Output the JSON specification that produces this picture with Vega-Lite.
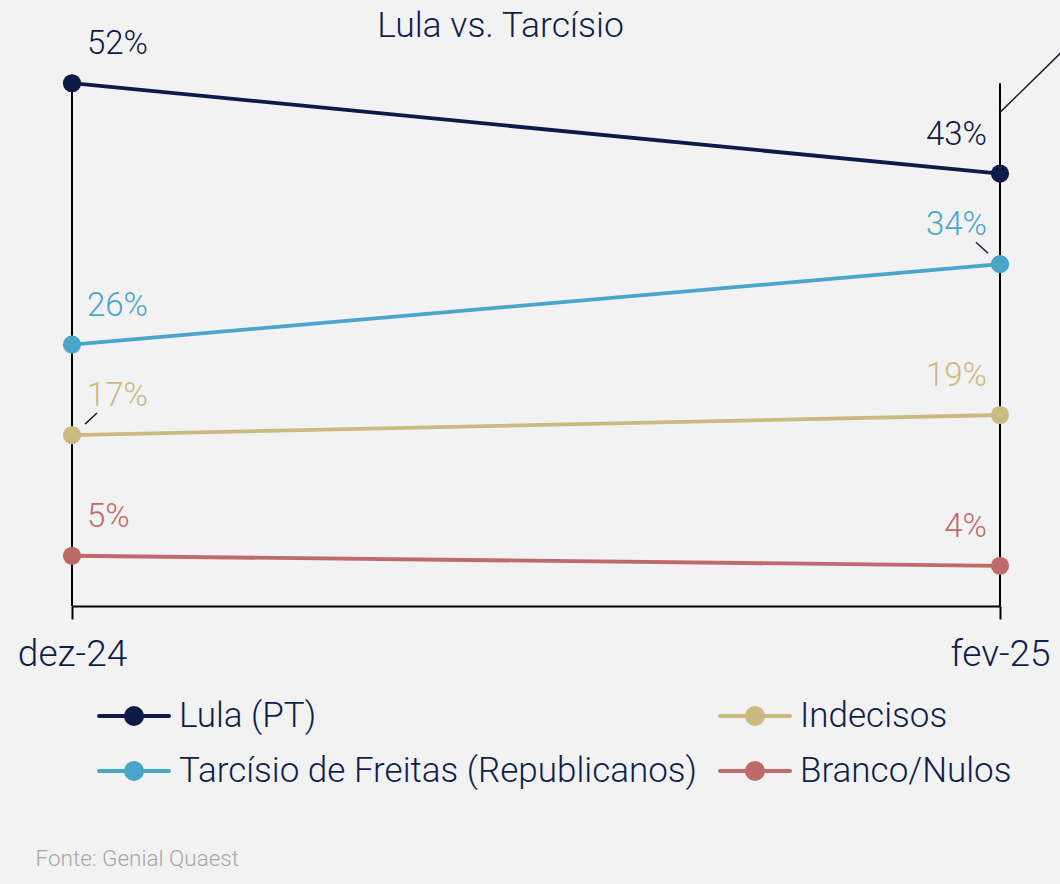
{
  "$schema": "https://vega.github.io/schema/vega-lite/v6.json",
  "width": 928,
  "height": 563,
  "autosize": {"type": "none"},
  "padding": {"left": 72, "top": 43, "right": 60, "bottom": 278},
  "background": "#f2f2f2",
  "config": {"view": {"stroke": null}, "font": "Roboto"},
  "datasets": {
    "pts": [
      {"periodo": 0, "serie": "Lula (PT)", "valor": 52, "rotulo": "52%"},
      {"periodo": 1, "serie": "Lula (PT)", "valor": 43, "rotulo": "43%"},
      {"periodo": 0, "serie": "Tarcísio de Freitas (Republicanos)", "valor": 26, "rotulo": "26%"},
      {"periodo": 1, "serie": "Tarcísio de Freitas (Republicanos)", "valor": 34, "rotulo": "34%"},
      {"periodo": 0, "serie": "Indecisos", "valor": 17, "rotulo": "17%"},
      {"periodo": 1, "serie": "Indecisos", "valor": 19, "rotulo": "19%"},
      {"periodo": 0, "serie": "Branco/Nulos", "valor": 5, "rotulo": "5%"},
      {"periodo": 1, "serie": "Branco/Nulos", "valor": 4, "rotulo": "4%"}
    ],
    "guias": [
      {"x": 0, "y": 0, "y2": 52},
      {"x": 1, "y": 0, "y2": 52}
    ],
    "anot": [
      {"x": 0.9741, "y": 36.18, "x2": 0.9871, "y2": 35.09},
      {"x": 0.014, "y": 18.09, "x2": 0.0269, "y2": 19.19},
      {"x": 1.0, "y": 49.1, "x2": 1.0808, "y2": 56.4}
    ]
  },
  "layer": [
    {
      "data": {"name": "guias"},
      "mark": {"type": "rule", "color": "#000000", "strokeWidth": 2},
      "encoding": {
        "x": {
          "field": "x",
          "type": "quantitative",
          "scale": {"domain": [0, 1], "nice": false, "zero": false},
          "axis": {
            "values": [0, 1],
            "labelExpr": "datum.value == 0 ? 'dez-24' : 'fev-25'",
            "grid": false,
            "domainColor": "#000000",
            "domainWidth": 2,
            "tickColor": "#000000",
            "tickWidth": 2,
            "tickSize": 13,
            "labelFontSize": 37,
            "labelFontWeight": 300,
            "labelColor": "#0e1f4b",
            "labelPadding": 17,
            "labelFlush": false,
            "labelOverlap": false,
            "title": "Fonte: Genial Quaest",
            "titleX": -37,
            "titleY": 259,
            "titleAlign": "left",
            "titleBaseline": "alphabetic",
            "titleFontSize": 22.5,
            "titleFontWeight": 300,
            "titleColor": "#a6a6a6",
            "titleAngle": 0
          }
        },
        "y": {
          "field": "y",
          "type": "quantitative",
          "scale": {"domain": [0, 56], "nice": false, "zero": false},
          "axis": {
            "domain": false,
            "ticks": false,
            "labels": false,
            "grid": false,
            "title": "Lula vs. Tarcísio",
            "titleAngle": 0,
            "titleX": 428,
            "titleY": -7,
            "titleAlign": "center",
            "titleBaseline": "alphabetic",
            "titleFontSize": 35.5,
            "titleFontWeight": 300,
            "titleColor": "#0e1f4b"
          }
        },
        "y2": {"field": "y2"}
      }
    },
    {
      "data": {"name": "pts"},
      "mark": {"type": "line", "strokeWidth": 3.8},
      "encoding": {
        "x": {"field": "periodo", "type": "quantitative"},
        "y": {"field": "valor", "type": "quantitative"},
        "color": {
          "field": "serie",
          "type": "nominal",
          "scale": {
            "domain": ["Lula (PT)", "Indecisos", "Tarcísio de Freitas (Republicanos)", "Branco/Nulos"],
            "range": ["#0b1a47", "#cbb982", "#4aa5cb", "#be6a6a"]
          },
          "legend": {
            "orient": "none",
            "legendX": 25,
            "legendY": 636,
            "columns": 2,
            "direction": "horizontal",
            "title": null,
            "padding": 0,
            "symbolType": "M-1,0L1,0M-0.23,0A0.23,0.23,0,1,1,0.23,0A0.23,0.23,0,1,1,-0.23,0Z",
            "symbolSize": 4900,
            "symbolStrokeWidth": 4,
            "labelFontSize": 35,
            "labelFontWeight": 300,
            "labelColor": "#0e1f4b",
            "labelOffset": 8,
            "labelLimit": 0,
            "rowPadding": -2,
            "columnPadding": 15,
            "encode": {
              "symbols": {
                "update": {
                  "stroke": {"scale": "color", "field": "value"},
                  "fill": {"scale": "color", "field": "value"},
                  "strokeWidth": {"value": 4},
                  "strokeCap": {"value": "round"},
                  "opacity": {"value": 1}
                }
              }
            }
          }
        }
      }
    },
    {
      "data": {"name": "pts"},
      "mark": {"type": "point", "filled": true, "size": 330, "opacity": 1},
      "encoding": {
        "x": {"field": "periodo", "type": "quantitative"},
        "y": {"field": "valor", "type": "quantitative"},
        "color": {"field": "serie", "type": "nominal"}
      }
    },
    {
      "data": {"name": "pts"},
      "transform": [{"filter": "datum.periodo == 0"}],
      "mark": {"type": "text", "align": "left", "baseline": "alphabetic", "dx": 15, "dy": -29, "fontSize": 33, "fontWeight": 300},
      "encoding": {
        "x": {"field": "periodo", "type": "quantitative"},
        "y": {"field": "valor", "type": "quantitative"},
        "text": {"field": "rotulo"},
        "color": {"field": "serie", "type": "nominal"}
      }
    },
    {
      "data": {"name": "pts"},
      "transform": [{"filter": "datum.periodo == 1"}],
      "mark": {"type": "text", "align": "right", "baseline": "alphabetic", "dx": -13, "dy": -29, "fontSize": 33, "fontWeight": 300},
      "encoding": {
        "x": {"field": "periodo", "type": "quantitative"},
        "y": {"field": "valor", "type": "quantitative"},
        "text": {"field": "rotulo"},
        "color": {"field": "serie", "type": "nominal"}
      }
    },
    {
      "data": {"name": "anot"},
      "mark": {"type": "rule", "color": "#1b1f33", "strokeWidth": 1.5},
      "encoding": {
        "x": {"field": "x", "type": "quantitative"},
        "y": {"field": "y", "type": "quantitative"},
        "x2": {"field": "x2"},
        "y2": {"field": "y2"}
      }
    }
  ]
}
